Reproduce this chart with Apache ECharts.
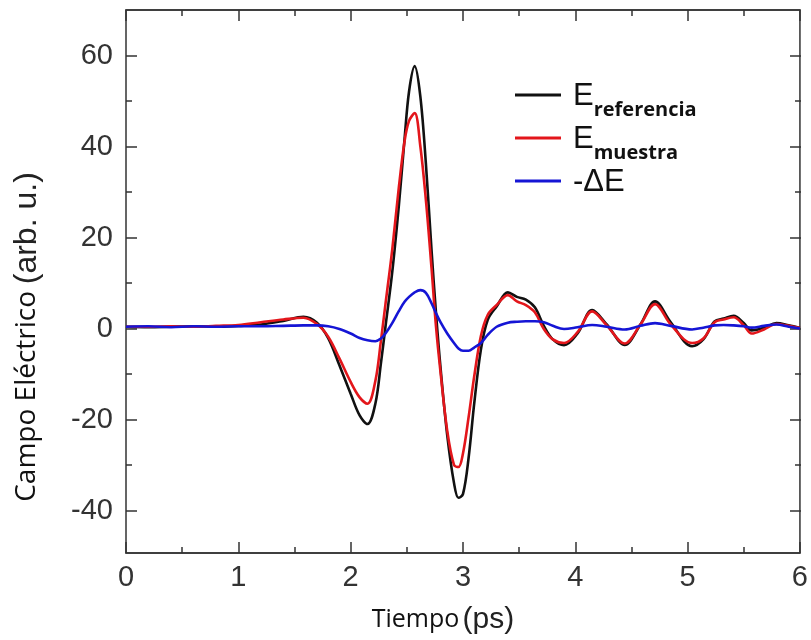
<!DOCTYPE html>
<html>
<head>
<meta charset="utf-8">
<script src="https://cdn.jsdelivr.net/npm/echarts@6/dist/echarts.min.js"></script>
<style>html,body{margin:0;padding:0;background:#fff}#c{width:811px;height:640px}</style>
</head>
<body>
<div id="c"></div>
<script>
// Time axis (ps)
const tiempo = [0,0.2,0.4,0.6,0.8,1.0,1.2,1.4,1.58,1.7,1.8,1.9,2.0,2.08,2.15,2.22,2.27,2.31,2.37,2.43,2.48,2.52,2.57,2.62,2.67,2.72,2.76,2.8,2.86,2.92,2.96,3.0,3.05,3.1,3.16,3.22,3.3,3.4,3.48,3.56,3.64,3.72,3.8,3.9,4.02,4.15,4.28,4.44,4.58,4.71,4.85,5.04,5.14,5.24,5.32,5.41,5.5,5.57,5.68,5.79,5.9,6.0];
// E referencia
const eReferencia = [0.0,-0.1,0.0,0.1,0.0,0.2,0.5,1.3,2.2,0.9,-2.5,-8.5,-14.8,-19.6,-21.5,-17,-8,0,12,27,41.5,52,57.6,51,36,17,3,-9,-24,-34.5,-37.8,-37,-29,-17,-5,1.5,4.5,7.6,6.6,6.0,4.3,0.2,-2.8,-4.1,-1.5,3.7,0.5,-4.0,0.5,5.6,1.0,-4.3,-2.8,1.2,1.8,2.4,0.8,-0.8,-0.2,0.8,0.3,-0.3];
// E muestra
const eMuestra = [0.0,0.0,0.1,0.0,0.2,0.4,1.0,1.6,2.0,0.6,-2.2,-7,-12.2,-15.6,-17,-12,-3,5,17,31,41,45.5,47.2,40,28,13,0,-10,-23,-30.5,-31,-28,-20,-11,-2,2.6,4.8,7.0,5.6,4.8,3.2,-0.5,-2.8,-3.6,-1.2,3.4,0.3,-3.7,0.5,5.0,0.5,-3.6,-2.6,1.0,1.6,2.1,0.3,-1.5,-0.6,0.6,0.2,-0.3];
// -Delta E
const menosDeltaE = [0.0,0.1,-0.1,0.1,0.0,0.1,0.1,0.2,0.3,0.3,0.1,-0.5,-1.5,-2.5,-3.0,-3.2,-2.6,-1.5,0.8,3.5,5.5,6.6,7.6,8.1,7.5,5.2,3.0,1.0,-1.5,-3.6,-4.8,-5.3,-5.3,-4.6,-3.6,-1.8,0.0,0.9,1.1,1.2,1.2,1.0,0.2,-0.5,-0.1,0.4,0.0,-0.6,0.2,0.8,0.2,-0.6,-0.2,0.3,0.4,0.3,0.1,-0.2,0.2,0.5,0.0,-0.4];

const xTicks = [0,1,2,3,4,5,6];
const yTicks = [-40,-20,0,20,40,60];
const seriesNames = ['E referencia','E muestra','-ΔE'];

const pair = arr => tiempo.map((t,i)=>[t,arr[i]]);
const axisCol = '#333';
const tickStyle = {color: axisCol, width: 1.5};

const chart = echarts.init(document.getElementById('c'));
chart.setOption({
  animation: false,
  backgroundColor: '#fff',
  grid: [
    {left:126, right:10, top:10, bottom:84, show:true, borderColor:axisCol, borderWidth:1.5, backgroundColor:'transparent'},
    {left:126, right:10, top:55.5, bottom:129.5}
  ],
  legend: {
    orient: 'vertical', left: 510, top: 76,
    icon: 'rect', itemWidth: 46, itemHeight: 3, itemGap: 4,
    data: seriesNames,
    formatter: function (n) {
      if (n === 'E referencia') return '{e|E}{s|referencia}';
      if (n === 'E muestra') return '{e|E}{s|muestra}';
      return '{e|-ΔE}';
    },
    textStyle: {
      padding: [0,0,0,7],
      rich: {
        e: {fontSize: 31, fontFamily: 'Liberation Sans', color: '#111', verticalAlign: 'bottom', lineHeight: 34},
        s: {fontSize: 20, fontWeight: 'bold', fontFamily: 'Open Sans', color: '#111', verticalAlign: 'bottom', padding: [0,0,-8,0]}
      }
    }
  },
  xAxis: [
    {gridIndex:0, type:'value', min:0, max:6, interval:1, position:'bottom',
     axisLine:{show:true, onZero:false, lineStyle:tickStyle},
     axisTick:{show:true, inside:true, length:11, lineStyle:tickStyle},
     minorTick:{show:true, splitNumber:2, length:6, lineStyle:tickStyle},
     splitLine:{show:false}, minorSplitLine:{show:false},
     axisLabel:{fontSize:29, color:axisCol, margin:10, fontFamily:'Liberation Sans',
       formatter: v => xTicks.indexOf(v) >= 0 ? String(v) : ''},
     name:'{a|Tiempo} {b|(ps)}', nameLocation:'middle', nameGap:52,
     nameTextStyle:{padding:[0,40,0,0], rich:{
       a:{fontSize:25, fontFamily:'Open Sans', color:'#111'},
       b:{fontSize:30, fontFamily:'Liberation Sans', color:'#222'}}}
    },
    {gridIndex:0, type:'value', min:0, max:6, interval:1, position:'top',
     axisLine:{show:true, onZero:false, lineStyle:tickStyle},
     axisTick:{show:true, inside:true, length:11, lineStyle:tickStyle},
     minorTick:{show:true, splitNumber:2, length:6, lineStyle:tickStyle},
     splitLine:{show:false}, axisLabel:{show:false}},
    {gridIndex:1, type:'value', min:0, max:6, show:false, axisLine:{onZero:false}}
  ],
  yAxis: [
    {gridIndex:0, type:'value', min:-50, max:70, show:false},
    {gridIndex:1, type:'value', min:-40, max:60, interval:20, position:'left',
     axisLine:{show:false, onZero:false},
     axisTick:{show:true, inside:true, length:11, lineStyle:tickStyle},
     minorTick:{show:true, splitNumber:2, length:6, lineStyle:tickStyle},
     splitLine:{show:false},
     axisLabel:{fontSize:29, color:axisCol, margin:13, fontFamily:'Liberation Sans',
       formatter: v => yTicks.indexOf(v) >= 0 ? String(v) : ''},
     name:'{a|Campo Eléctrico}  {b|(arb. u.)}', nameLocation:'middle', nameRotate:90, nameGap:83,
     nameTextStyle:{padding:[0,108,0,0], rich:{
       a:{fontSize:28, fontFamily:'Open Sans', color:'#111'},
       b:{fontSize:32, fontFamily:'Liberation Sans', color:'#222'}}}
    },
    {gridIndex:1, type:'value', min:-40, max:60, interval:20, position:'right',
     axisLine:{show:false, onZero:false},
     axisTick:{show:true, inside:true, length:11, lineStyle:tickStyle},
     minorTick:{show:true, splitNumber:2, length:6, lineStyle:tickStyle},
     splitLine:{show:false}, axisLabel:{show:false}}
  ],
  series: [
    {name:'E referencia', type:'line', xAxisIndex:0, yAxisIndex:0, data:pair(eReferencia), showSymbol:false, smooth:0.35,
     lineStyle:{color:'#111', width:2.6}, itemStyle:{color:'#111'}, z:2},
    {name:'E muestra', type:'line', xAxisIndex:0, yAxisIndex:0, data:pair(eMuestra), showSymbol:false, smooth:0.35,
     lineStyle:{color:'#e3161b', width:2.6}, itemStyle:{color:'#e3161b'}, z:3},
    {name:'-ΔE', type:'line', xAxisIndex:0, yAxisIndex:0, data:pair(menosDeltaE), showSymbol:false, smooth:0.35,
     lineStyle:{color:'#1515d5', width:2.6}, itemStyle:{color:'#1515d5'}, z:4}
  ]
});
</script>
</body>
</html>
